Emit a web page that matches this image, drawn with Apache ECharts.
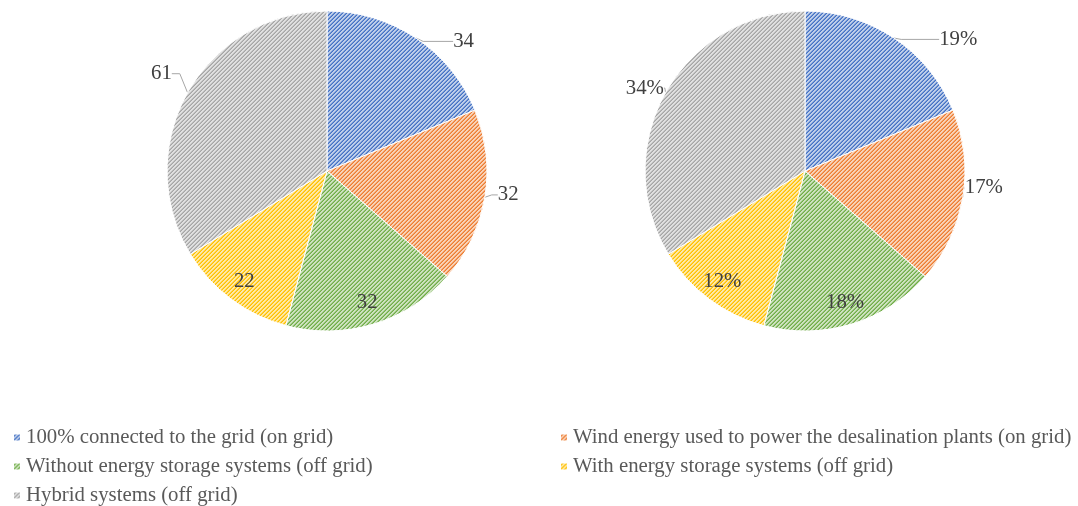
<!DOCTYPE html>
<html>
<head>
<meta charset="utf-8">
<script src="https://cdn.jsdelivr.net/npm/echarts@6/dist/echarts.min.js"></script>
<style>
  html, body { margin: 0; padding: 0; background: #fff; }
  #chart_box { width: 1078px; height: 506px; }
</style>
</head>
<body>
<div id="chart_box"></div>
<script>
// data
let categories = [
    '100% connected to the grid (on grid)',
    'Wind energy used to power the desalination plants (on grid)',
    'Without energy storage systems (off grid)',
    'With energy storage systems (off grid)',
    'Hybrid systems (off grid)'
];
let counts = [34, 32, 32, 22, 61];
let pctLabels = ['19%', '17%', '18%', '12%', '34%'];
let colors = ['#4472C4', '#ED7D31', '#70AD47', '#FFC000', '#A5A5A5'];
// which labels sit inside the slice
let insideLabel = [false, false, true, true, false];

// diagonal hatch like the office pattern fill
function hatch(color) {
    let c = document.createElement('canvas');
    c.width = 4;
    c.height = 4;
    let ctx = c.getContext('2d');
    ctx.fillStyle = '#fff';
    ctx.fillRect(0, 0, 4, 4);
    ctx.fillStyle = color;
    for (let x = 0; x < 4; x++) {
        for (let y = 0; y < 4; y++) {
            let k = (x + y) % 4;
            ctx.globalAlpha = k === 3 ? 1 : (k === 2 ? 0.75 : 0.35);
            ctx.fillRect(x, y, 1, 1);
        }
    }
    return { image: c, repeat: 'repeat' };
}

let fills = colors.map(hatch);
let labelFont = { fontFamily: 'Liberation Serif', fontSize: 20.8, color: '#404040' };

// leader lines for outside labels, per slice [length, length2]
let leftLines = [[2, 30], [4, 6], [0, 0], [0, 0], [10, 8]];
let rightLines = [[2, 38], [4, 1], [0, 0], [0, 0], [3, 1]];
// small nudges so labels sit where the office layout put them
let leftNudge = [[3, 5], [0, -3], [0, 0], [0, 0], [4, -14]];
let rightNudge = [[3, 3], [-6, -10], [0, 0], [0, 0], [5, -3]];

function mainSeries(center, lines, nudge, fmt) {
    return {
        type: 'pie',
        center: center,
        radius: [0, 160],
        startAngle: 90,
        clockwise: true,
        avoidLabelOverlap: false,
        silent: true,
        itemStyle: { borderColor: '#fff', borderWidth: 1 },
        labelLayout: function (p) {
            let d = nudge[p.dataIndex];
            let r = p.labelRect;
            if (d[0] === 0 && d[1] === 0) {
                return {};
            }
            // move label, the library redraws the leader line to it
            return {
                x: r.x + (p.align === 'right' ? r.width : 0) + d[0],
                y: r.y + r.height / 2 + d[1],
                verticalAlign: 'middle'
            };
        },
        data: categories.map(function (name, i) {
            return {
                name: name,
                value: counts[i],
                itemStyle: { color: fills[i] },
                label: Object.assign({
                    show: !insideLabel[i],
                    position: 'outside',
                    formatter: fmt(i),
                    distanceToLabelLine: 3
                }, labelFont),
                labelLine: {
                    show: !insideLabel[i],
                    length: lines[i][0],
                    length2: lines[i][1],
                    lineStyle: { color: '#a6a6a6', width: 1 }
                }
            };
        })
    };
}

function innerLabels(center, fmt) {
    return {
        type: 'pie',
        center: center,
        radius: [110, 160],
        startAngle: 90,
        clockwise: true,
        silent: true,
        itemStyle: { color: 'rgba(0,0,0,0)' },
        labelLine: { show: false },
        data: categories.map(function (name, i) {
            return {
                name: name,
                value: counts[i],
                label: Object.assign({
                    show: insideLabel[i],
                    position: 'inside',
                    formatter: fmt(i)
                }, labelFont)
            };
        })
    };
}

let countFmt = function (i) { return String(counts[i]); };
let pctFmt = function (i) { return pctLabels[i]; };

let legendText = { fontFamily: 'Liberation Serif', fontSize: 20.8, lineHeight: 20, color: '#595959' };

function legendBlock(left, gap, idx) {
    return {
        orient: 'vertical',
        left: left,
        top: 427,
        padding: 0,
        itemWidth: 8,
        itemHeight: 8,
        itemGap: 8,
        itemTextGap: gap,
        icon: 'rect',
        selectedMode: false,
        textStyle: legendText,
        data: idx.map(function (i) {
            return { name: categories[i], itemStyle: { color: fills[i] } };
        })
    };
}

let myChart = echarts.init(document.getElementById('chart_box'), null, { renderer: 'canvas' });

let myOption = {
    animation: false,
    legend: [
        legendBlock(12, 7, [0, 2, 4]),
        legendBlock(559, 3, [1, 3])
    ],
    series: [
        mainSeries([327, 171], leftLines, leftNudge, countFmt),
        innerLabels([327, 171], countFmt),
        mainSeries([805, 171], rightLines, rightNudge, pctFmt),
        innerLabels([805, 171], pctFmt)
    ]
};

myChart.setOption(myOption);
</script>
</body>
</html>
